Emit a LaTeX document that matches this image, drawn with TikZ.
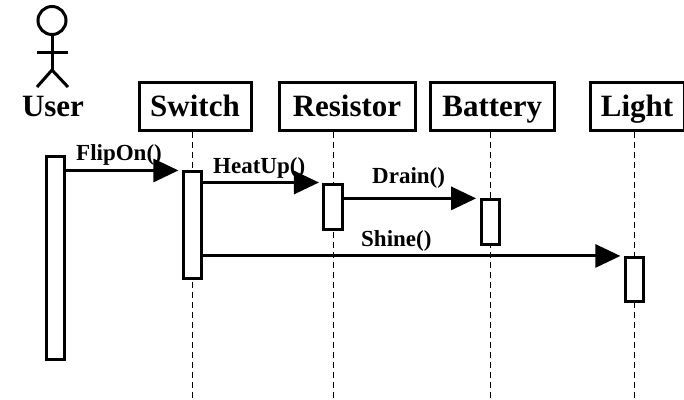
\documentclass[tikz,border=0pt]{standalone}
\usepackage{fontspec}
\setmainfont{Liberation Serif}[BoldFont={Liberation Serif Bold}]
\usetikzlibrary{arrows.meta,backgrounds}

\begin{document}
\begin{tikzpicture}[x=1pt, y=-1pt,
  object/.style={draw, line width=3pt, inner sep=0pt, minimum height=48pt, text height=21pt, text depth=0pt, font=\bfseries\fontsize{31}{31}\selectfont},
  activation/.style={draw, fill=white, line width=3pt, inner sep=0pt, minimum width=18.5pt},
  message/.style={line width=3pt, shorten >=3.5pt, -{Triangle[length=25pt, width=23pt]}},
  msglabel/.style={anchor=base west, inner sep=0pt, font=\bfseries\fontsize{23}{23}\selectfont},
  lifeline/.style={line width=1.3pt, dash pattern=on 6pt off 4pt}]
\useasboundingbox (0,0) rectangle (684,399);
\coordinate (bottom) at (0,399);

\draw[line width=3pt] (52,20.5) circle (14pt);
\draw[line width=3pt] (52,34.5) -- (52,70);
\draw[line width=3pt] (37,52) -- (68,52);
\draw[line width=3pt] (37,87) -- (52,70) -- (68,87);
\node[object, draw=none] (user) at (53,106) {User};

\node[object, minimum width=112pt] (switch) at (195,106) {Switch};
\node[object, minimum width=136pt] (resistor) at (347,106) {Resistor};
\node[object, minimum width=124pt] (battery) at (492.3,106) {Battery};
\node[object, minimum width=94pt] (light) at (637,106) {Light};

\node[activation, minimum height=203.5pt] (useract) at (55.5,258.2) {};
\node[activation, minimum height=106.5pt] (switchact) at (192.7,225.2) {};
\node[activation, minimum height=45pt] (resistoract) at (333.2,206.5) {};
\node[activation, minimum height=44.7pt] (batteryact) at (490.4,222.2) {};
\node[activation, minimum height=44.5pt] (lightact) at (634.6,279.7) {};

\begin{pgfonlayer}{background}
\draw[lifeline] (switch.south -| switchact) -- (switchact |- bottom);
\draw[lifeline] (resistor.south -| resistoract) -- (resistoract |- bottom);
\draw[lifeline] (battery.south -| batteryact) -- (batteryact |- bottom);
\draw[lifeline] (light.south -| lightact) -- (lightact |- bottom);
\end{pgfonlayer}

\draw[message] (useract.east |- switchact.north) -- (switchact.north west);
\draw[message] (switchact.east |- resistoract.north) -- (resistoract.north west);
\draw[message] (resistoract.east |- batteryact.north) -- (batteryact.north west);
\draw[message] (switchact.east |- lightact.north) -- (lightact.north west);

\node[msglabel] (flipon) at (76,160) {FlipOn()};
\node[msglabel] (heatup) at (213,173) {HeatUp()};
\node[msglabel] (drain) at (372,183) {Drain()};
\node[msglabel] (shine) at (361,246) {Shine()};
\end{tikzpicture}
\end{document}
